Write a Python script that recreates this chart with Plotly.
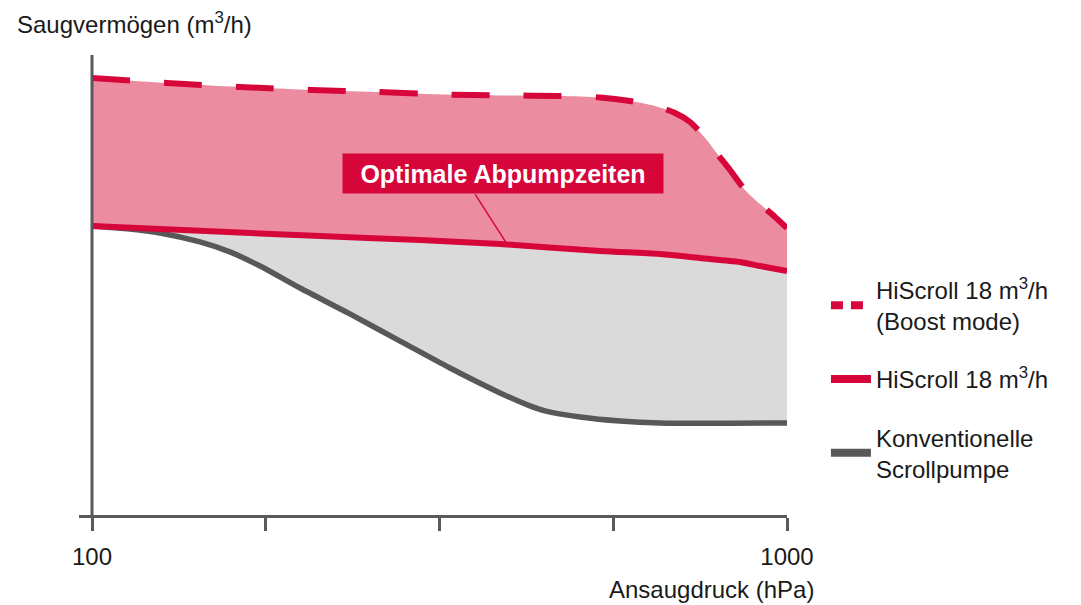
import math
import plotly.graph_objects as go

# ---- data (pressure in hPa, pumping speed in arbitrary m3/h units) ----
boost_p = [100, 128.2, 163.3, 207.4, 255.5, 322.2, 392.9, 471.3, 538.3, 594.6,
           645.8, 690.2, 725.3, 762.3, 795.8, 827.9, 869.9, 914.6, 961.0, 1000]
boost_s = [27.21, 26.90, 26.65, 26.46, 26.34, 26.18, 26.12, 26.09, 26.0, 25.78,
           25.47, 25.03, 24.47, 23.47, 22.42, 21.48, 20.24, 19.36, 18.56, 17.87]

std_p = [100, 143.0, 212.9, 296.5, 386.5, 538.3, 656.6, 749.6, 855.8, 914.6, 1000]
std_s = [18.0, 17.69, 17.37, 17.12, 16.87, 16.44, 16.25, 16.0, 15.75, 15.50, 15.19]

conv_p = [100, 113.4, 125.3, 143.0, 157.9, 174.5, 199.2, 235.0, 277.5, 327.4,
          386.5, 426.8, 448.5, 503.9, 575.2, 656.6, 1000]
conv_s = [18.0, 17.81, 17.56, 17.0, 16.38, 15.5, 14.13, 12.52, 10.83, 9.15,
          7.60, 6.79, 6.48, 6.10, 5.85, 5.73, 5.73]

tick_vals = [100, 177.8, 316.2, 562.3, 1000]
tick_text = ["100", "", "", "", "1000"]

names = ["HiScroll 18 m<sup>3</sup>/h<br>(Boost mode)",
         "HiScroll 18 m<sup>3</sup>/h",
         "Konventionelle<br>Scrollpumpe"]

callout_text = "Optimale Abpumpzeiten"
callout_point = (394.5, 16.94)   # point on the HiScroll curve
callout_box = (390.3, 21.26)     # centre of the label box

RED = "#D6063B"
PINK = "#EC8CA1"
GREYFILL = "#DADADA"
GREYLINE = "#585858"
AXIS = "#5A5A5A"
FONT = "Liberation Sans, Arial, sans-serif"

fig = go.Figure()

sp = dict(shape="spline", smoothing=0.8)

# fills
fig.add_trace(go.Scatter(x=std_p, y=std_s, mode="lines", line=dict(width=0, **sp),
                         showlegend=False, hoverinfo="skip"))
fig.add_trace(go.Scatter(x=boost_p, y=boost_s, mode="lines", line=dict(width=0, **sp),
                         fill="tonexty", fillcolor=PINK, showlegend=False, hoverinfo="skip"))
fig.add_trace(go.Scatter(x=conv_p, y=conv_s, mode="lines", line=dict(width=0, **sp),
                         showlegend=False, hoverinfo="skip"))
fig.add_trace(go.Scatter(x=std_p, y=std_s, mode="lines", line=dict(width=0, **sp),
                         fill="tonexty", fillcolor=GREYFILL, showlegend=False, hoverinfo="skip"))

# visible lines
fig.add_trace(go.Scatter(x=conv_p, y=conv_s, mode="lines",
                         line=dict(color=GREYLINE, width=5.5, **sp), showlegend=False))
fig.add_trace(go.Scatter(x=std_p, y=std_s, mode="lines",
                         line=dict(color=RED, width=6, **sp), showlegend=False))
fig.add_trace(go.Scatter(x=boost_p, y=boost_s, mode="lines",
                         line=dict(color=RED, width=6, dash="38px,34px", **sp), showlegend=False))

# legend entries
fig.add_trace(go.Scatter(x=[None], y=[None], mode="lines", name=names[0], legendgroup="a",
                         line=dict(color=RED, width=8, dash="12px,8px")))
fig.add_trace(go.Scatter(x=[None], y=[None], mode="lines", name=names[1], legendgroup="b",
                         line=dict(color=RED, width=8)))
fig.add_trace(go.Scatter(x=[None], y=[None], mode="lines", name=names[2], legendgroup="c",
                         line=dict(color=GREYLINE, width=8)))

# y axis line at 100 hPa
fig.add_shape(type="line", xref="x", yref="paper", x0=100, x1=100, y0=0, y1=1,
              line=dict(color=AXIS, width=3))

# callout (annotation positions on a log axis are given in log10 units)
fig.add_annotation(x=math.log10(callout_point[0]), y=callout_point[1], xref="x", yref="y",
                   text="", showarrow=True, ax=-32, ay=-50, arrowhead=0, arrowwidth=1.5,
                   arrowcolor=RED, standoff=0)
fig.add_annotation(x=math.log10(callout_box[0]), y=callout_box[1], xref="x", yref="y",
                   text="<b>" + callout_text + "</b>", showarrow=False,
                   font=dict(family=FONT, size=25, color="white"),
                   bgcolor=RED, width=320, height=39, borderpad=0, align="center")

# axis titles
fig.add_annotation(x=-0.0904, y=1.0696, xref="paper", yref="paper", xanchor="left", yanchor="middle",
                   text="Saugvermögen (m<sup>3</sup>/h)", showarrow=False,
                   font=dict(family=FONT, size=24, color="#1a1a1a"))
fig.add_annotation(x=1.041, y=-0.163, xref="paper", yref="paper", xanchor="right", yanchor="middle",
                   text="Ansaugdruck (hPa)", showarrow=False,
                   font=dict(family=FONT, size=24, color="#1a1a1a"))

fig.update_xaxes(type="log", range=[1.9813, 3.0], tickvals=tick_vals, ticktext=tick_text,
                 showline=True, linecolor=AXIS, linewidth=3, ticks="outside", ticklen=13,
                 tickwidth=3, tickcolor=AXIS, showgrid=False, zeroline=False,
                 tickfont=dict(family=FONT, size=24, color="#1a1a1a"), ticklabelstandoff=5)
fig.update_yaxes(range=[0, 28.64], visible=False, showgrid=False, zeroline=False)

fig.update_layout(
    width=1081, height=605,
    margin=dict(l=79, r=294, t=55, b=90),
    paper_bgcolor="white", plot_bgcolor="white",
    font=dict(family=FONT, size=24, color="#1a1a1a"),
    legend=dict(x=1.055, y=0.538, xanchor="left", yanchor="top", traceorder="grouped",
                tracegroupgap=24, itemwidth=40, valign="middle",
                font=dict(family=FONT, size=24, color="#1a1a1a"), bgcolor="rgba(0,0,0,0)"),
    showlegend=True,
)

fig.write_html("out.html", config={"displayModeBar": False},
               post_script="document.body.style.margin='0';")
